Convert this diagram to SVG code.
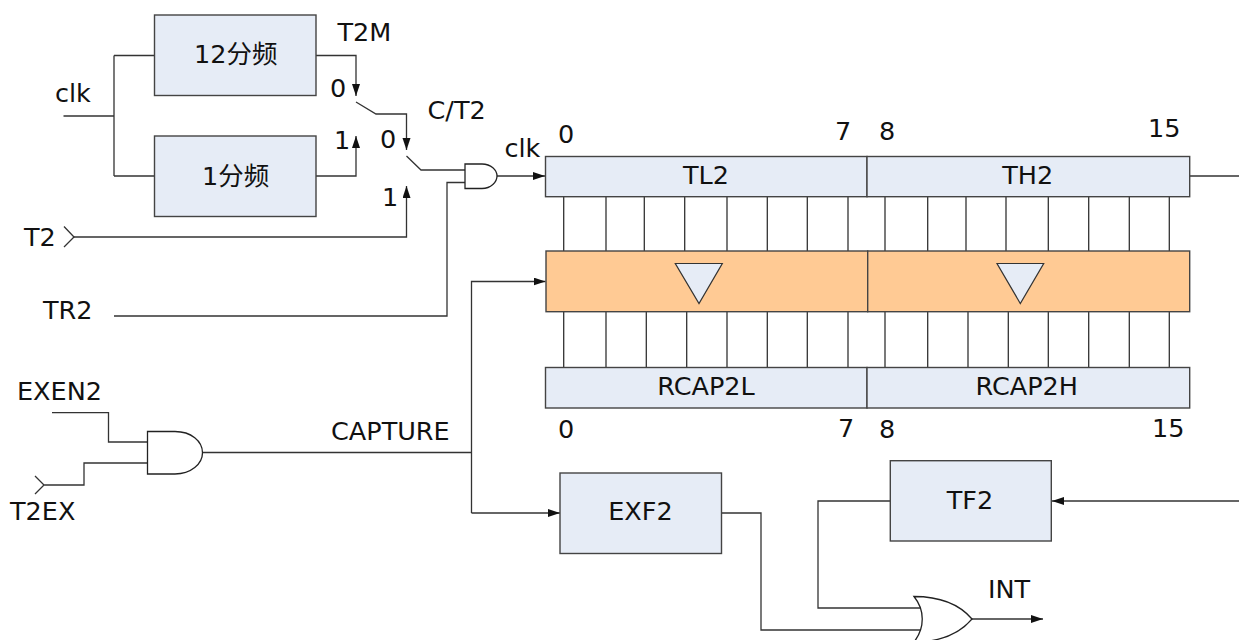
<svg xmlns="http://www.w3.org/2000/svg" width="1239" height="640" viewBox="0 0 1239 640">
<style>
text{font-family:"DejaVu Sans","Noto Sans CJK SC",sans-serif;font-size:25.5px;fill:#111}
.m{text-anchor:middle}
.b{fill:#e6ecf6;stroke:#444;stroke-width:1.4}
.o{fill:#ffca94;stroke:#444;stroke-width:1.4}
.g{fill:#fff;stroke:#222;stroke-width:1.3}
.c{fill:none;stroke:#333;stroke-width:1.3}
.d{fill:#e6ecf6;stroke:#333;stroke-width:1.2}
</style>
<defs>
<marker id="a" markerUnits="userSpaceOnUse" markerWidth="12" markerHeight="10" refX="12" refY="4" orient="auto"><path d="M0,0L12,4L0,8Z" fill="#111"/></marker>
</defs>
<g id="connectors">
<path class="c" d="M63.5,116H114M114,55.5V176M114,55.5H155M114,176H155"/>
<path class="c" marker-end="url(#a)" d="M316,55.5H356V96"/>
<path class="c" marker-end="url(#a)" d="M316,176H356V136"/>
<path class="c" marker-end="url(#a)" d="M356,102L376,114H406.5V150"/>
<path class="c" d="M406.5,156L421,170H465"/>
<path class="c" marker-end="url(#a)" d="M74,237H406.5V186"/>
<path class="c" d="M64,226.5L74,237L64,247"/>
<path class="c" d="M114,316H447V182.5H465"/>
<path class="c" marker-end="url(#a)" d="M497,176H545"/>
<path class="c" d="M52,412.7H108.5V442H148"/>
<path class="c" d="M35,476L44,485L35,494M44,485H84V463H148"/>
<path class="c" d="M202,452.5H471.5"/>
<path class="c" marker-end="url(#a)" d="M471.5,513V281.5H545.5"/>
<path class="c" marker-end="url(#a)" d="M471.5,513H560"/>
<path class="c" d="M721.5,513H761V630H922"/>
<path class="c" d="M890,501H818V608H922"/>
<path class="c" marker-end="url(#a)" d="M1239,501H1052"/>
<path class="c" marker-end="url(#a)" d="M972,619H1043"/>
<path class="c" d="M1190,176H1239"/>
<path class="c" d="M563.7,197V251M606,197V251M644.3,197V251M684.7,197V251M727,197V251M767.3,197V251M807.3,197V251M848,197V251M885,197V251M927.7,197V251M966,197V251M1006,197V251M1048.3,197V251M1088.7,197V251M1129.3,197V251M1169.3,197V251"/>
<path class="c" d="M563.7,312V367.5M606,312V367.5M646.3,312V367.5M686.7,312V367.5M727,312V367.5M767.3,312V367.5M807.3,312V367.5M848,312V367.5M885,312V367.5M927.7,312V367.5M968,312V367.5M1008.3,312V367.5M1048.3,312V367.5M1088.7,312V367.5M1129.3,312V367.5M1169.3,312V367.5"/>
</g>
<g id="div12"><rect class="b" x="154.5" y="15" width="161.5" height="80.5"/><text x="194" y="63">12分频</text></g>
<g id="div1"><rect class="b" x="154.5" y="136" width="161.5" height="80.5"/><text x="202" y="185">1分频</text></g>
<g id="and1"><path class="g" d="M465,164H482C491,164 497,170 497,176C497,182 491,188.5 482,188.5H465Z"/></g>
<g id="and2"><path class="g" d="M147.5,431.5H175C191,431.5 202.5,441 202.5,452.8C202.5,464 191,474 175,474H147.5Z"/></g>
<g id="TL2"><rect class="b" x="545.5" y="156.5" width="321.5" height="40.2"/><text class="m" x="706" y="184">TL2</text></g>
<g id="TH2"><rect class="b" x="867" y="156.5" width="322.7" height="40.2"/><text class="m" x="1027.7" y="184">TH2</text></g>
<g id="latchL"><rect class="o" x="546" y="251" width="321.7" height="60.7"/><path class="d" d="M675.3,263.5H722.3L699,303.5Z"/></g>
<g id="latchH"><rect class="o" x="867.7" y="251" width="322" height="60.7"/><path class="d" d="M997,263.5H1043.7L1020.3,303.5Z"/></g>
<g id="RCAP2L"><rect class="b" x="545.5" y="367.5" width="321.5" height="40.5"/><text class="m" x="706" y="395">RCAP2L</text></g>
<g id="RCAP2H"><rect class="b" x="867" y="367.5" width="322.7" height="40.5"/><text class="m" x="1026.7" y="395">RCAP2H</text></g>
<g id="EXF2"><rect class="b" x="560" y="473" width="161.5" height="80.5"/><text class="m" x="640.5" y="520">EXF2</text></g>
<g id="TF2"><rect class="b" x="890.3" y="460.7" width="161" height="80.3"/><text class="m" x="970" y="509">TF2</text></g>
<g id="or1"><path class="g" d="M914,596.5C940,596.5 960,605 972,619C960,633 940,642 914,642C925,628 925,610 914,596.5Z"/></g>
<g id="labels">
<text x="337.5" y="41">T2M</text>
<text x="330" y="97">0</text>
<text x="55" y="102">clk</text>
<text x="334" y="149">1</text>
<text x="380" y="148">0</text>
<text x="427.5" y="119">C/T2</text>
<text x="504.5" y="157">clk</text>
<text x="382" y="206">1</text>
<text x="24" y="246">T2</text>
<text x="43" y="319">TR2</text>
<text x="17" y="400">EXEN2</text>
<text x="10" y="520">T2EX</text>
<text x="331" y="440">CAPTURE</text>
<text x="988" y="598">INT</text>
<text x="558" y="143">0</text>
<text x="835" y="140">7</text>
<text x="879" y="140">8</text>
<text x="1148" y="137">15</text>
<text x="558" y="438">0</text>
<text x="838" y="437">7</text>
<text x="879" y="438">8</text>
<text x="1152" y="437">15</text>
</g>
</svg>
